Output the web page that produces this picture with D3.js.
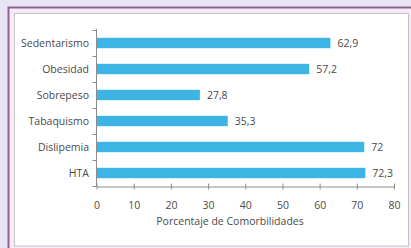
<!DOCTYPE html>
<html>
<head>
<meta charset="utf-8">
<script src="https://cdn.jsdelivr.net/npm/d3@7"></script>
<style>
  body { margin: 0; background: #e7e5f3; }
  svg { display: block; font-family: "Open Sans", sans-serif; }
</style>
</head>
<body>
<div id="chart"></div>
<script>
// data
const categories = ['Sedentarismo', 'Obesidad', 'Sobrepeso', 'Tabaquismo', 'Dislipemia', 'HTA'];
const values = [62.9, 57.2, 27.8, 35.3, 72, 72.3];
const valueLabels = ['62,9', '57,2', '27,8', '35,3', '72', '72,3'];
const xTicks = [0, 10, 20, 30, 40, 50, 60, 70, 80];
const xTitle = 'Porcentaje de Comorbilidades';

const width = 411, height = 248;
const fontFam = '"Open Sans", sans-serif';
const txtColor = '#4a4a4a';
const svg = d3.select('#chart').append('svg')
  .attr('width', width)
  .attr('height', height);

// frame (purple outer line, pink strip, grey inner border)
svg.append('rect').attr('x', 8.5).attr('y', 7.5).attr('width', 420).attr('height', 260)
  .attr('fill', '#f5eaf5').attr('stroke', '#8f6391').attr('stroke-width', 2);
svg.append('rect').attr('x', 14.5).attr('y', 13.5).attr('width', 394).attr('height', 232.5)
  .attr('fill', '#ffffff').attr('stroke', '#c4c4c4').attr('stroke-width', 1);

const x = d3.scaleLinear().domain([0, 80]).range([96.5, 394]);
const y = d3.scaleBand().domain(categories).range([30, 186]).paddingInner(0.6).paddingOuter(0.3);
const yOuter = d3.scaleBand().domain(categories).range([30, 186]);

// bars
svg.append('g')
  .selectAll('rect')
  .data(categories)
  .enter().append('rect')
    .attr('x', x(0))
    .attr('y', d => y(d))
    .attr('width', (d, i) => x(values[i]) - x(0))
    .attr('height', y.bandwidth())
    .attr('fill', '#3db5e4');

// value labels
svg.append('g')
  .selectAll('text')
  .data(categories)
  .enter().append('text')
    .attr('x', (d, i) => x(values[i]) + 7)
    .attr('y', d => y(d) + y.bandwidth() / 2)
    .attr('dy', '0.35em')
    .attr('font-size', 10.5)
    .attr('fill', txtColor)
    .text((d, i) => valueLabels[i]);

// x axis
const xAxis = svg.append('g')
  .attr('transform', 'translate(0,186.5)')
  .call(d3.axisBottom(x).tickValues(xTicks).tickSize(3).tickSizeOuter(0).tickPadding(12));
xAxis.select('.domain').attr('stroke', '#8c8c8c');
xAxis.selectAll('.tick line').attr('stroke', '#8c8c8c').attr('y1', -3);
xAxis.selectAll('.tick text').attr('font-size', 10.5).attr('fill', txtColor)
  .style('font-family', fontFam);

// y axis: line with ticks at category boundaries
const yAx = svg.append('g').attr('transform', 'translate(96.5,0)');
yAx.append('line').attr('y1', 29).attr('y2', 186.5).attr('stroke', '#8c8c8c');
yAx.selectAll('.bt')
  .data(categories.concat(['end']))
  .enter().append('line')
    .attr('x1', -4).attr('x2', 0)
    .attr('y1', (d, i) => i < categories.length ? Math.round(yOuter(d)) + 0.5 : 186.5)
    .attr('y2', (d, i) => i < categories.length ? Math.round(yOuter(d)) + 0.5 : 186.5)
    .attr('stroke', '#8c8c8c');

// category labels
svg.append('g')
  .selectAll('text')
  .data(categories)
  .enter().append('text')
    .attr('x', 89)
    .attr('y', d => y(d) + y.bandwidth() / 2)
    .attr('dy', '0.35em')
    .attr('text-anchor', 'end')
    .attr('font-size', 10.5)
    .attr('fill', txtColor)
    .text(d => d);

// axis title
svg.append('text')
  .attr('x', 230)
  .attr('y', 225)
  .attr('text-anchor', 'middle')
  .attr('font-size', 10.5)
  .attr('fill', txtColor)
  .text(xTitle);
</script>
</body>
</html>
